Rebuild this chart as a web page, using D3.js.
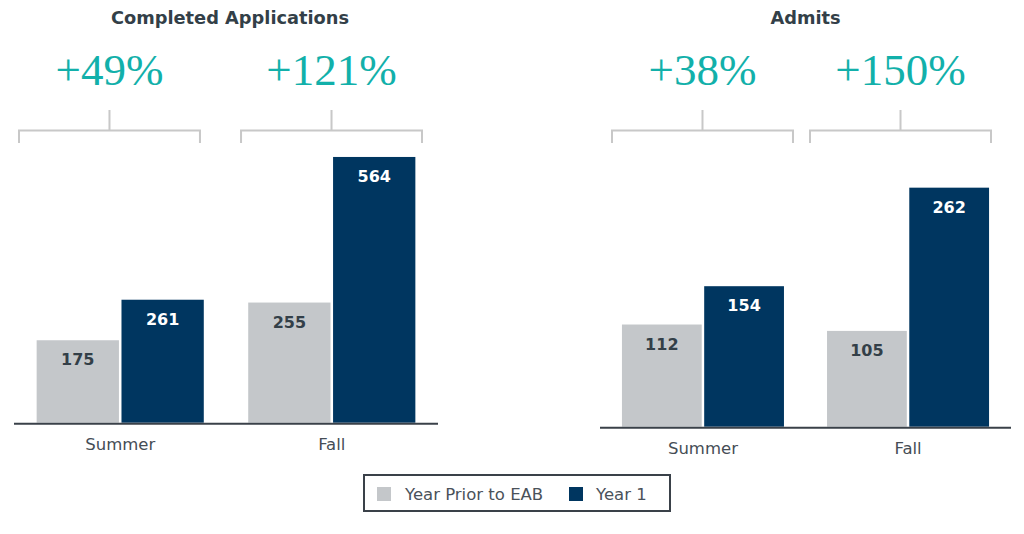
<!DOCTYPE html>
<html>
<head>
<meta charset="utf-8">
<script src="https://cdn.jsdelivr.net/npm/d3@7"></script>
<style>
  html, body { margin: 0; padding: 0; background: #fff; }
  svg { display: block; }
</style>
</head>
<body>
<script>
const width = 1024;
const height = 534;

const categories = ["Summer", "Fall"];
const series = ["Year Prior to EAB", "Year 1"];

const appsPrior = [175, 255];
const appsYear1 = [261, 564];
const appsGrowth = ["+49%", "+121%"];

const admitsPrior = [112, 105];
const admitsYear1 = [154, 262];
const admitsGrowth = ["+38%", "+150%"];

const colour = ["#c4c7ca", "#003660"];
const labelColour = ["#333f48", "#ffffff"];
const teal = "#12b0aa";
const ink = "#333f48";

const svg = d3
  .select("body")
  .append("svg")
  .attr("width", width)
  .attr("height", height);

// one panel per measure
const panels = [
  {
    title: "Completed Applications",
    prior: appsPrior,
    year1: appsYear1,
    growth: appsGrowth,
    yMax: 600,
    base: 422.7,
    top: 140,
    axis: [14, 438],
    titleShift: 4,
    bracket: [19, 422],
    bracketPad: 0.185,
  },
  {
    title: "Admits",
    prior: admitsPrior,
    year1: admitsYear1,
    growth: admitsGrowth,
    yMax: 300,
    base: 426.7,
    top: 153,
    axis: [600, 1011],
    titleShift: 0,
    bracket: [612, 991],
    bracketPad: 0.086,
  },
];

panels.forEach((p) => {
  const g = svg.append("g");

  const x0 = d3
    .scaleBand()
    .domain(categories)
    .range(p.axis)
    .paddingInner(0.21)
    .paddingOuter(0.107);

  const x1 = d3
    .scaleBand()
    .domain(series)
    .range([0, x0.bandwidth()])
    .paddingInner(0.03);

  const y = d3.scaleLinear().domain([0, p.yMax]).range([p.base, p.top]);

  const bx = d3
    .scaleBand()
    .domain(categories)
    .range(p.bracket)
    .paddingInner(p.bracketPad);

  const rows = categories.map((c, i) => ({
    cat: c,
    values: [p.prior[i], p.year1[i]],
    growth: p.growth[i],
  }));

  // title
  g.append("text")
    .attr("x", (p.axis[0] + p.axis[1]) / 2 + p.titleShift)
    .attr("y", 24)
    .attr("text-anchor", "middle")
    .attr("font-family", "DejaVu Sans, Verdana, sans-serif")
    .attr("font-weight", "bold")
    .attr("font-size", 17.8)
    .attr("fill", ink)
    .text(p.title);

  // brackets
  const br = g
    .selectAll(".bracket")
    .data(rows)
    .join("g")
    .attr("class", "bracket")
    .attr("transform", (d) => "translate(" + bx(d.cat) + ",0)");

  br.append("path")
    .attr(
      "d",
      (d) =>
        "M0,143V130.5H" +
        bx.bandwidth() +
        "V143M" +
        bx.bandwidth() / 2 +
        ",130.5V110"
    )
    .attr("fill", "none")
    .attr("stroke", "#c8c8c8")
    .attr("stroke-width", 2);

  br.append("text")
    .attr("x", bx.bandwidth() / 2)
    .attr("y", 85)
    .attr("text-anchor", "middle")
    .attr("font-family", "Liberation Serif, Times New Roman, serif")
    .attr("font-size", 45)
    .attr("fill", teal)
    .text((d) => d.growth);

  // bars
  const grp = g
    .selectAll(".grp")
    .data(rows)
    .join("g")
    .attr("class", "grp")
    .attr("transform", (d) => "translate(" + x0(d.cat) + ",0)");

  const bar = grp
    .selectAll(".bar")
    .data((d) => d.values.map((v, j) => ({ key: series[j], value: v, j: j })))
    .join("g")
    .attr("class", "bar");

  bar.append("rect")
    .attr("x", (d) => x1(d.key))
    .attr("y", (d) => y(d.value))
    .attr("width", x1.bandwidth())
    .attr("height", (d) => y(0) - y(d.value))
    .attr("fill", (d) => colour[d.j]);

  bar.append("text")
    .attr("x", (d) => x1(d.key) + x1.bandwidth() / 2)
    .attr("y", (d) => y(d.value) + 25)
    .attr("text-anchor", "middle")
    .attr("font-family", "DejaVu Sans, Verdana, sans-serif")
    .attr("font-weight", "bold")
    .attr("font-size", 16)
    .attr("fill", (d) => labelColour[d.j])
    .text((d) => d.value);

  // baseline
  g.append("line")
    .attr("x1", p.axis[0])
    .attr("x2", p.axis[1])
    .attr("y1", y(0) + 1)
    .attr("y2", y(0) + 1)
    .attr("stroke", "#3a4149")
    .attr("stroke-width", 2);

  // category labels
  g.selectAll(".cat")
    .data(rows)
    .join("text")
    .attr("class", "cat")
    .attr("x", (d) => x0(d.cat) + x0.bandwidth() / 2)
    .attr("y", y(0) + 27)
    .attr("text-anchor", "middle")
    .attr("font-family", "DejaVu Sans, Verdana, sans-serif")
    .attr("font-size", 16.5)
    .attr("fill", "#454d55")
    .text((d) => d.cat);
});

// legend
const legend = svg.append("g");

legend
  .append("rect")
  .attr("x", 364)
  .attr("y", 475)
  .attr("width", 306)
  .attr("height", 36)
  .attr("fill", "#fff")
  .attr("stroke", "#3a4149")
  .attr("stroke-width", 2);

const legendX = [377, 569];

const item = legend
  .selectAll(".item")
  .data(series)
  .join("g")
  .attr("class", "item")
  .attr("transform", (d, i) => "translate(" + legendX[i] + ",487)");

item.append("rect")
  .attr("width", 14)
  .attr("height", 14)
  .attr("fill", (d, i) => colour[i]);

item.append("text")
  .attr("x", (d, i) => (i === 0 ? 28 : 27))
  .attr("y", 13)
  .attr("font-family", "DejaVu Sans, Verdana, sans-serif")
  .attr("font-size", 16.5)
  .attr("fill", "#4a525a")
  .text((d) => d);
</script>
</body>
</html>
